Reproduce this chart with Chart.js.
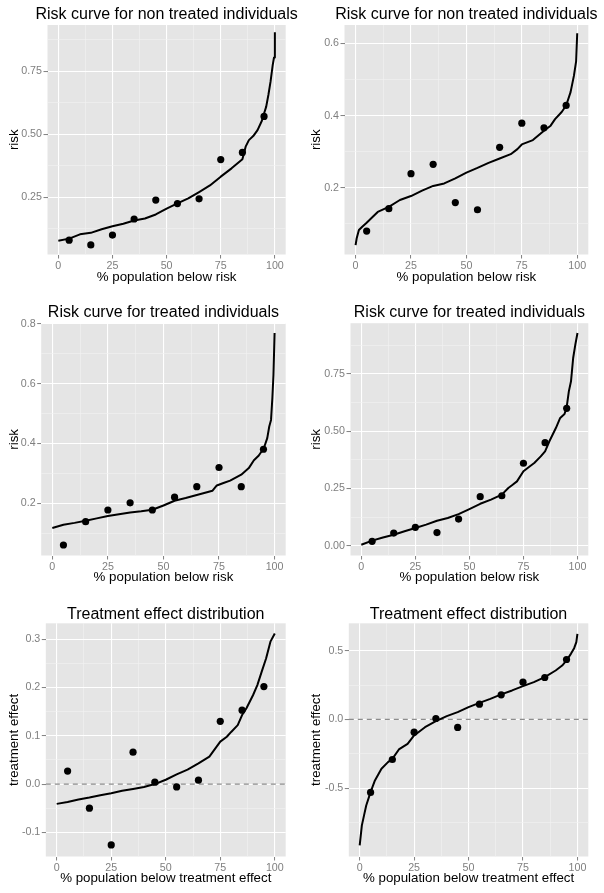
<!DOCTYPE html>
<html>
<head>
<meta charset="utf-8">
<script src="https://cdn.jsdelivr.net/npm/chart.js@4.4.1/dist/chart.umd.min.js"></script>
<style>
  html, body { margin: 0; padding: 0; background: #fff; }
  #page { position: relative; width: 604px; height: 893px; overflow: hidden; }
  #page canvas { position: absolute; }
</style>
</head>
<body>
<div id="page"></div>
<script>
// shared x positions of the decile points and x ticks
const pointX = [5, 15, 25, 35, 45, 55, 65, 75, 85, 95];
const xTickValues = [0, 25, 50, 75, 100];
const xTickLabels = ['0', '25', '50', '75', '100'];

// top left: risk curve for non treated individuals
const p1CurveX = [0, 5, 10, 15, 20, 25, 30, 35, 40, 45, 50, 55, 60, 65, 70, 75, 80, 85, 86.5, 88, 90, 92, 94, 95, 96, 97, 98, 99, 99.6, 100];
const p1CurveY = [0.077, 0.085, 0.102, 0.108, 0.122, 0.134, 0.144, 0.157, 0.165, 0.181, 0.204, 0.225, 0.245, 0.27, 0.296, 0.331, 0.364, 0.4, 0.45, 0.476, 0.492, 0.516, 0.553, 0.582, 0.609, 0.655, 0.708, 0.774, 0.804, 0.904];
const p1PointY = [0.079, 0.06, 0.099, 0.163, 0.238, 0.224, 0.243, 0.399, 0.427, 0.57];
const p1YTickValues = [0.25, 0.5, 0.75];
const p1YTickLabels = ['0.25', '0.50', '0.75'];

// top right: risk curve for non treated individuals
const p2CurveX = [0, 0.5, 1.5, 3, 5, 8, 10, 15, 20, 25, 30, 35, 40, 45, 50, 55, 60, 65, 70, 73, 75, 80, 85, 88, 90, 93, 95, 97, 98.5, 99.5, 100];
const p2CurveY = [0.041, 0.06, 0.083, 0.092, 0.103, 0.121, 0.133, 0.147, 0.166, 0.177, 0.192, 0.205, 0.212, 0.226, 0.242, 0.255, 0.269, 0.281, 0.293, 0.307, 0.32, 0.332, 0.358, 0.372, 0.39, 0.41, 0.428, 0.465, 0.51, 0.55, 0.628];
const p2PointY = [0.08, 0.142, 0.239, 0.265, 0.159, 0.139, 0.312, 0.379, 0.366, 0.428];
const p2YTickValues = [0.2, 0.4, 0.6];
const p2YTickLabels = ['0.2', '0.4', '0.6'];

// middle left: risk curve for treated individuals
const p3CurveX = [0, 5, 10, 15, 20, 25, 30, 35, 40, 45, 50, 55, 60, 65, 70, 72, 74, 77, 80, 85, 88.4, 90.7, 92.9, 95.2, 96.7, 97.6, 98.4, 99, 99.5, 100];
const p3CurveY = [0.118, 0.129, 0.135, 0.142, 0.15, 0.158, 0.164, 0.17, 0.174, 0.179, 0.193, 0.209, 0.218, 0.228, 0.238, 0.242, 0.26, 0.268, 0.276, 0.296, 0.318, 0.344, 0.36, 0.385, 0.418, 0.457, 0.479, 0.552, 0.63, 0.769];
const p3PointY = [0.061, 0.139, 0.178, 0.202, 0.178, 0.221, 0.256, 0.32, 0.256, 0.381];
const p3YTickValues = [0.2, 0.4, 0.6, 0.8];
const p3YTickLabels = ['0.2', '0.4', '0.6', '0.8'];

// middle right: risk curve for treated individuals
const p4CurveX = [0, 5, 10, 15, 20, 25, 30, 35, 40, 45, 50, 55, 60, 65, 68, 70, 72, 75, 78, 80, 83, 85, 87, 90, 92, 94, 95, 96, 97, 98, 99, 100];
const p4CurveY = [0.004, 0.022, 0.036, 0.048, 0.063, 0.077, 0.092, 0.109, 0.121, 0.138, 0.16, 0.183, 0.201, 0.223, 0.252, 0.266, 0.281, 0.325, 0.347, 0.361, 0.39, 0.412, 0.456, 0.514, 0.558, 0.575, 0.605, 0.674, 0.718, 0.82, 0.878, 0.929];
const p4PointY = [0.019, 0.055, 0.08, 0.057, 0.116, 0.214, 0.218, 0.36, 0.45, 0.6];
const p4YTickValues = [0, 0.25, 0.5, 0.75];
const p4YTickLabels = ['0.00', '0.25', '0.50', '0.75'];

// bottom left: treatment effect distribution
const p5CurveX = [0, 5, 10, 15, 20, 25, 30, 35, 40, 45, 50, 55, 60, 65, 70, 75, 78, 80, 83, 85, 87, 90, 92, 94, 96, 98, 100];
const p5CurveY = [-0.041, -0.037, -0.032, -0.028, -0.023, -0.019, -0.014, -0.01, -0.006, 0, 0.009, 0.02, 0.03, 0.043, 0.057, 0.088, 0.098, 0.108, 0.122, 0.143, 0.157, 0.184, 0.205, 0.233, 0.26, 0.295, 0.312];
const p5PointY = [0.027, -0.05, -0.126, 0.066, 0.004, -0.006, 0.008, 0.13, 0.153, 0.202];
const p5YTickValues = [-0.1, 0, 0.1, 0.2, 0.3];
const p5YTickLabels = ['-0.1', '0.0', '0.1', '0.2', '0.3'];

// bottom right: treatment effect distribution
const p6CurveX = [0, 0.5, 1, 2, 3, 5, 7, 10, 13, 15, 18, 22, 25, 30, 35, 40, 45, 50, 55, 60, 65, 70, 75, 80, 85, 90, 93, 95, 97, 98.5, 99.5, 100];
const p6CurveY = [-0.915, -0.843, -0.77, -0.697, -0.625, -0.528, -0.443, -0.358, -0.31, -0.286, -0.218, -0.177, -0.116, -0.056, -0.012, 0.024, 0.053, 0.09, 0.121, 0.15, 0.182, 0.211, 0.242, 0.271, 0.308, 0.356, 0.392, 0.429, 0.477, 0.518, 0.562, 0.622];
const p6PointY = [-0.53, -0.291, -0.092, 0.007, -0.058, 0.111, 0.179, 0.271, 0.305, 0.436];
const p6YTickValues = [-0.5, 0, 0.5];
const p6YTickLabels = ['-0.5', '0.0', '0.5'];

const riskTitleX = '% population below risk';
const effectTitleX = '% population below treatment effect';

// cell = canvas box, plot = panel rectangle (page coordinates)
const panels = [
  { title: 'Risk curve for non treated individuals', yTitle: 'risk', xTitle: riskTitleX,
    curveX: p1CurveX, curveY: p1CurveY, pointY: p1PointY, yTicks: p1YTickValues, yLabels: p1YTickLabels,
    yMin: 0.022, yMax: 0.933, cell: [0, 0, 302, 298], plot: [47.5, 285.7, 25, 254.5], titleY: 15, xTitleY: 277.3 },
  { title: 'Risk curve for non treated individuals', yTitle: 'risk', xTitle: riskTitleX,
    curveX: p2CurveX, curveY: p2CurveY, pointY: p2PointY, yTicks: p2YTickValues, yLabels: p2YTickLabels,
    yMin: 0.015, yMax: 0.651, cell: [302, 0, 302, 298], plot: [344.5, 588.3, 25, 254.5], titleY: 15, xTitleY: 277.3 },
  { title: 'Risk curve for treated individuals', yTitle: 'risk', xTitle: riskTitleX,
    curveX: p3CurveX, curveY: p3CurveY, pointY: p3PointY, yTicks: p3YTickValues, yLabels: p3YTickLabels,
    yMin: 0.026, yMax: 0.802, cell: [0, 298, 302, 297], plot: [41.2, 285.7, 323.2, 555.5], titleY: 313, xTitleY: 577.3 },
  { title: 'Risk curve for treated individuals', yTitle: 'risk', xTitle: riskTitleX,
    curveX: p4CurveX, curveY: p4CurveY, pointY: p4PointY, yTicks: p4YTickValues, yLabels: p4YTickLabels,
    yMin: -0.043, yMax: 0.972, cell: [302, 298, 302, 297], plot: [350.5, 588.3, 323.2, 555.5], titleY: 313, xTitleY: 577.3 },
  { title: 'Treatment effect distribution', yTitle: 'treatment effect', xTitle: effectTitleX, zeroLine: true,
    curveX: p5CurveX, curveY: p5CurveY, pointY: p5PointY, yTicks: p5YTickValues, yLabels: p5YTickLabels,
    yMin: -0.15, yMax: 0.333, cell: [0, 595, 302, 298], plot: [45.8, 285.7, 623.3, 856.5], titleY: 614.3, xTitleY: 878.3 },
  { title: 'Treatment effect distribution', yTitle: 'treatment effect', xTitle: effectTitleX, zeroLine: true,
    curveX: p6CurveX, curveY: p6CurveY, pointY: p6PointY, yTicks: p6YTickValues, yLabels: p6YTickLabels,
    yMin: -0.996, yMax: 0.699, cell: [302, 595, 302, 298], plot: [348.8, 588.3, 623.3, 856.5], titleY: 614.3, xTitleY: 878.3 }
];

const xMin = -5;
const xMax = 105;

Chart.defaults.font.family = '"Liberation Sans", Arial, sans-serif';

// major ticks carry a label, minor ticks sit halfway between them
function buildTicks(values, labels, min, max) {
  const ticks = values.map((v, i) => ({ value: v, text: labels[i] }));
  const step = values[1] - values[0];
  const minors = values.map(v => v - step / 2).concat([values[values.length - 1] + step / 2]);
  minors.forEach(v => {
    if (v > min + 1e-9 && v < max - 1e-9) ticks.push({ value: v, text: '', minor: true });
  });
  return ticks.sort((a, b) => a.value - b.value);
}

// grey panel background and the panel title
const panelDecor = {
  id: 'panelDecor',
  beforeDraw(chart, args, opts) {
    const { ctx, chartArea: a } = chart;
    ctx.save();
    ctx.fillStyle = '#E5E5E5';
    ctx.fillRect(a.left, a.top, a.right - a.left, a.bottom - a.top);
    ctx.fillStyle = '#000';
    ctx.font = '16px "Liberation Sans", Arial, sans-serif';
    ctx.textAlign = 'center';
    ctx.textBaseline = 'middle';
    ctx.fillText(opts.text, (a.left + a.right) / 2, opts.y);
    ctx.restore();
  }
};

const gridColor = c => (c.tick && c.tick.minor ? '#F2F2F2' : '#FFFFFF');
const gridWidth = c => (c.tick && c.tick.minor ? 0.6 : 1.1);
const tickColor = c => (c.tick && c.tick.minor ? 'rgba(0,0,0,0)' : '#7F7F7F');

const page = document.getElementById('page');

panels.forEach(p => {
  const [cx, cy, cw, ch] = p.cell;
  const [L, R, T, B] = p.plot;
  const canvas = document.createElement('canvas');
  canvas.width = cw;
  canvas.height = ch;
  canvas.style.left = cx + 'px';
  canvas.style.top = cy + 'px';
  page.appendChild(canvas);

  const datasets = [
    {
      data: pointX.map((x, i) => ({ x, y: p.pointY[i] })),
      pointRadius: 3.6,
      pointBackgroundColor: '#000',
      pointBorderWidth: 0,
      showLine: false
    },
    {
      data: p.curveX.map((x, i) => ({ x, y: p.curveY[i] })),
      showLine: true,
      borderColor: '#000',
      borderWidth: 2,
      pointRadius: 0,
      borderJoinStyle: 'round'
    }
  ];
  if (p.zeroLine) {
    datasets.push({
      data: [{ x: xMin, y: 0 }, { x: xMax, y: 0 }],
      showLine: true,
      borderColor: '#8C8C8C',
      borderWidth: 1.3,
      borderDash: [5, 4],
      pointRadius: 0
    });
  }

  new Chart(canvas, {
    type: 'scatter',
    data: { datasets },
    options: {
      responsive: false,
      animation: false,
      devicePixelRatio: 1,
      layout: { padding: { left: 0, top: T - cy, right: cx + cw - R, bottom: 0 } },
      plugins: {
        legend: { display: false },
        tooltip: { enabled: false },
        panelDecor: { text: p.title, y: p.titleY - cy }
      },
      scales: {
        x: {
          type: 'linear',
          min: xMin,
          max: xMax,
          afterBuildTicks: s => { s.ticks = buildTicks(xTickValues, xTickLabels, xMin, xMax); },
          afterFit: s => { s.height = cy + ch - B; },
          ticks: {
            autoSkip: false,
            maxRotation: 0,
            padding: 1.6,
            color: '#7F7F7F',
            font: { size: 10.7 },
            callback: (v, i, ticks) => ticks[i].text
          },
          grid: { color: gridColor, lineWidth: gridWidth, tickColor, tickLength: 4, tickWidth: 1 },
          border: { display: false },
          title: {
            display: true,
            text: p.xTitle,
            color: '#000',
            font: { size: 13.3 },
            padding: { top: 0, bottom: (cy + ch - p.xTitleY) - 8 }
          }
        },
        y: {
          type: 'linear',
          min: p.yMin,
          max: p.yMax,
          afterBuildTicks: s => { s.ticks = buildTicks(p.yTicks, p.yLabels, p.yMin, p.yMax); },
          afterFit: s => { s.width = L - cx; },
          ticks: {
            autoSkip: false,
            padding: 1.5,
            color: '#7F7F7F',
            font: { size: 10.7 },
            callback: (v, i, ticks) => ticks[i].text
          },
          grid: { color: gridColor, lineWidth: gridWidth, tickColor, tickLength: 4, tickWidth: 1 },
          border: { display: false },
          title: {
            display: true,
            text: p.yTitle,
            color: '#000',
            font: { size: 13.3 },
            padding: { top: 6, bottom: 0 }
          }
        }
      }
    },
    plugins: [panelDecor]
  });
});
</script>
</body>
</html>
